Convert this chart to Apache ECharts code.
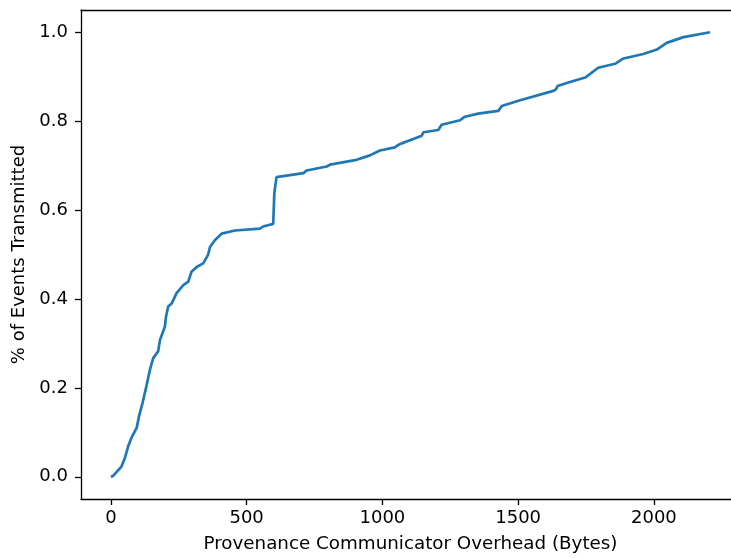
<!DOCTYPE html>
<html>
<head>
<meta charset="utf-8">
<title>Provenance Communicator Overhead CDF</title>
<script src="https://cdn.jsdelivr.net/npm/echarts@6/dist/echarts.min.js"></script>
<style>
html, body { margin: 0; padding: 0; background: #fff; }
#main { width: 731px; height: 558px; }
</style>
</head>
<body>
<div id="main"></div>
<script>
// overhead in bytes
var overheadBytes = [0, 8, 39, 52, 64, 76, 95, 104, 117, 131, 144, 156, 174, 181, 199, 203, 211, 224, 242, 267, 285, 297, 316, 340, 358, 365, 383, 408, 457, 549, 561, 598, 602, 602, 608, 610, 709, 721, 795, 807, 905, 954, 991, 1046, 1060, 1071, 1114, 1145, 1151, 1206, 1218, 1286, 1304, 1353, 1427, 1440, 1507, 1630, 1640, 1645, 1691, 1747, 1795, 1857, 1888, 1961, 2011, 2047, 2109, 2207];
// fraction of events transmitted
var fractionSent = [0, 0.002, 0.023, 0.043, 0.069, 0.088, 0.11, 0.137, 0.167, 0.204, 0.241, 0.267, 0.282, 0.308, 0.338, 0.36, 0.383, 0.39, 0.413, 0.431, 0.439, 0.461, 0.472, 0.48, 0.499, 0.517, 0.532, 0.547, 0.554, 0.558, 0.563, 0.569, 0.571, 0.638, 0.64, 0.674, 0.683, 0.689, 0.698, 0.702, 0.713, 0.723, 0.734, 0.741, 0.747, 0.75, 0.76, 0.767, 0.775, 0.78, 0.792, 0.802, 0.81, 0.817, 0.823, 0.834, 0.847, 0.868, 0.872, 0.879, 0.888, 0.898, 0.92, 0.929, 0.941, 0.951, 0.961, 0.976, 0.989, 1.0];
var xTicks = [0, 500, 1000, 1500, 2000];
var yTicks = [0, 0.2, 0.4, 0.6, 0.8, 1.0];

var pts = [];
for (var i = 0; i < overheadBytes.length; i++) {
    pts.push([overheadBytes[i], fractionSent[i]]);
}

var font = 'DejaVu Sans';
var ink = '#000';
var myChart = echarts.init(document.getElementById('main'));
var option = {
    animation: false,
    grid: { left: 81, top: 10, right: 0, bottom: 57 },
    xAxis: [{
        type: 'value',
        min: -110,
        max: 2284,
        name: 'Provenance Communicator Overhead (Bytes)',
        nameLocation: 'middle',
        nameGap: 36,
        nameTextStyle: { fontFamily: font, fontSize: 18.3, color: ink, padding: [0, 0, 0, 9] },
        splitLine: { show: false },
        axisLine: { onZero: false, lineStyle: { color: ink, width: 1.3 } },
        axisTick: { customValues: xTicks, length: 6, lineStyle: { color: ink, width: 1.3 } },
        axisLabel: {
            customValues: xTicks, fontFamily: font, fontSize: 18, color: ink, margin: 10,
            formatter: function (v) { return String(v); }
        }
    }, {
        type: 'value',
        position: 'top',
        min: -110,
        max: 2284,
        splitLine: { show: false },
        axisLine: { show: true, onZero: false, lineStyle: { color: ink, width: 1.3 } },
        axisTick: { show: false },
        axisLabel: { show: false }
    }],
    yAxis: {
        type: 'value',
        min: -0.05,
        max: 1.05,
        name: '% of Events Transmitted',
        nameLocation: 'middle',
        nameGap: 52,
        nameTextStyle: { fontFamily: font, fontSize: 18, color: ink },
        splitLine: { show: false },
        axisLine: { show: true, onZero: false, lineStyle: { color: ink, width: 1.3 } },
        axisTick: { show: true, customValues: yTicks, length: 6, lineStyle: { color: ink, width: 1.3 } },
        axisLabel: {
            customValues: yTicks, fontFamily: font, fontSize: 18, color: ink, margin: 13,
            formatter: function (v) { return v.toFixed(1); }
        }
    },
    series: [{
        type: 'line',
        data: pts,
        showSymbol: false,
        lineStyle: { color: '#1f77b4', width: 2.7 },
        clip: false
    }]
};
myChart.setOption(option);
</script>
</body>
</html>
